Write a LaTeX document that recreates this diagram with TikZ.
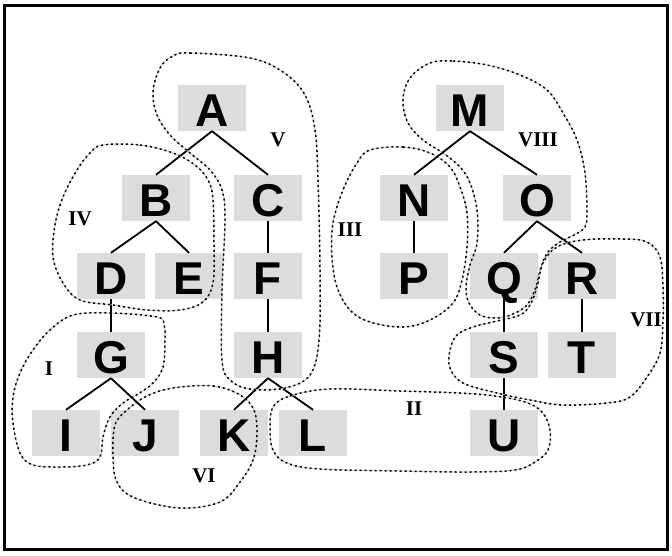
\documentclass[tikz,border=0pt]{standalone}
\usepackage{fontspec}
\setmainfont{Liberation Serif}
\newfontfamily\lsans{Liberation Sans}
\definecolor{boxgray}{RGB}{220,220,220}
\tikzset{
  box/.style={fill=boxgray, minimum width=68pt, minimum height=46pt, inner sep=0pt,
    text height=36pt, text depth=0pt, font=\lsans\bfseries\fontsize{46}{46}\selectfont},
  edge/.style={line width=1.8pt, black},
  lbl/.style={inner sep=0pt, font=\bfseries\fontsize{21}{21}\selectfont},
  grp/.style={draw=black, line width=1.5pt, dash pattern=on 2pt off 3pt,
    preaction={draw=gray!50, line width=0.8pt, solid}},
}
\begin{document}
\begin{tikzpicture}[x=1pt,y=-1pt]
\useasboundingbox (0,0) rectangle (672,555);
\draw[line width=2.5pt] (4.5,5.5) rectangle (667.5,549.5);

% nodes
\node[box] (A) at (212,108) {A};
\node[box] (B) at (156,198) {B};
\node[box] (C) at (268,198) {C};
\node[box] (D) at (111,276) {D};
\node[box] (E) at (189,276) {E};
\node[box] (F) at (268,276) {F};
\node[box] (G) at (111,355) {G};
\node[box] (H) at (268,355) {H};
\node[box] (I) at (66,433) {I};
\node[box] (J) at (145,433) {J};
\node[box] (K) at (234,433) {K};
\node[box] (L) at (313,433) {L};
\node[box] (M) at (470,108) {M};
\node[box] (N) at (414,198) {N};
\node[box] (O) at (537,198) {O};
\node[box] (P) at (414,276) {P};
\node[box] (Q) at (504,276) {Q};
\node[box] (R) at (582,276) {R};
\node[box] (S) at (504,355) {S};
\node[box] (T) at (582,355) {T};
\node[box] (U) at (504,433) {U};

% edges
\foreach \p/\c in {A/B,A/C,B/D,B/E,C/F,D/G,F/H,G/I,G/J,H/K,H/L,M/N,M/O,N/P,O/Q,O/R,Q/S,R/T,S/U}
  \draw[edge] (\p.south) -- (\c.north);

% groups
\draw[grp] plot[smooth cycle, tension=0.6] coordinates {(173,56) (190,53) (250,58) (283,72) (305,95) (315,130) (318,180) (320,270) (319,340) (310,375) (285,388) (250,389) (230,380) (222,360) (222,290) (225,220) (222,190) (210,170) (190,153) (170,135) (157,115) (153,92) (160,68)};
\draw[grp] plot[smooth cycle, tension=0.6] coordinates {(103,145) (140,145) (173,153) (195,165) (208,180) (213,200) (214,250) (213,283) (203,302) (180,310) (147,310) (113,305) (80,300) (63,283) (53,257) (55,225) (63,197) (77,170) (90,153)};
\draw[grp] plot[smooth cycle, tension=0.6] coordinates {(73,315) (110,313) (157,317) (164,325) (165,340) (163,367) (153,383) (138,394) (123,403) (110,417) (103,437) (100,457) (87,465) (60,467) (33,465) (20,453) (13,423) (13,397) (20,373) (33,350) (50,330)};
\draw[grp] plot[smooth cycle, tension=0.6] coordinates {(173,388) (213,386) (240,395) (254,410) (257,435) (253,460) (240,482) (220,502) (180,508) (135,498) (117,482) (113,455) (115,425) (127,410) (147,396)};
\draw[grp] plot[smooth cycle, tension=0.6] coordinates {(273,407) (290,396) (330,389) (400,391) (460,393) (495,396) (525,402) (542,412) (550,430) (548,450) (535,462) (515,470) (470,472) (400,471) (320,469) (287,463) (273,450) (270,428)};
\draw[grp] plot[smooth cycle, tension=0.6] coordinates {(370,150) (403,147) (430,153) (450,167) (460,187) (467,213) (467,247) (462,280) (453,303) (430,320) (403,327) (370,322) (350,310) (337,287) (332,257) (333,223) (343,190) (357,163)};
\draw[grp] plot[smooth cycle, tension=0.6] coordinates {(430,63) (453,61) (487,65) (520,75) (547,90) (563,113) (577,140) (585,173) (587,213) (585,227) (576,234) (560,242) (548,252) (541,267) (536,287) (527,305) (513,314) (497,318) (480,315) (469,303) (466,287) (470,265) (477,243) (477,210) (470,183) (460,167) (443,153) (423,140) (408,123) (403,100) (410,78)};
\draw[grp] plot[smooth cycle, tension=0.6] coordinates {(583,240) (623,239) (647,242) (660,257) (663,287) (663,320) (660,353) (647,377) (630,397) (607,403) (563,405) (530,400) (497,393) (463,383) (450,368) (450,350) (457,335) (473,327) (497,321) (520,315) (530,305) (537,287) (543,263) (557,247)};

% labels
\node[lbl] (lV) at (278,140) {V};
\node[lbl] (lIV) at (80,219) {IV};
\node[lbl] (lVIII) at (538,140) {VIII};
\node[lbl] (lIII) at (350,230) {III};
\node[lbl] (lI) at (49,369) {I};
\node[lbl] (lVI) at (204,476) {VI};
\node[lbl] (lII) at (414,409) {II};
\node[lbl] (lVII) at (646,320) {VII};
\end{tikzpicture}
\end{document}
